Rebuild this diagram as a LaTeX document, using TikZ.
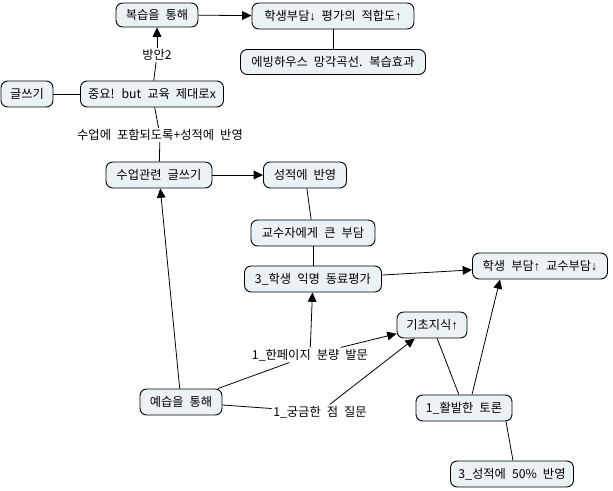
\documentclass[tikz,border=0pt]{standalone}
\usepackage{fontspec}
\setmainfont{Noto Sans CJK KR}[WordSpace=2.2]
\newfontfamily\arrfont{Liberation Sans}
\newcommand{\upar}{{\arrfont ↑}}
\newcommand{\dnar}{{\arrfont ↓}}
\usetikzlibrary{arrows.meta}
\definecolor{boxfill}{RGB}{234,242,245}
\tikzset{
  box/.style={draw=black, line width=0.7pt, rounded corners=5pt, fill=boxfill,
    inner sep=1pt, minimum height=19.5pt, font=\fontsize{9.2pt}{10pt}\selectfont},
  lab/.style={fill=white, inner sep=1pt, font=\fontsize{9.2pt}{10pt}\selectfont},
  conn/.style={line width=0.6pt, black},
  arr/.style={conn, -{Triangle[length=7pt,width=6.5pt]}}
}
\begin{document}
\begin{tikzpicture}[x=0.75pt,y=-0.75pt]
\useasboundingbox (0,0) rectangle (613,491);
% nodes
\node[box, minimum width=61.5pt, minimum height=18pt] (bok) at (157,15) {복습을 통해};
\node[box, minimum width=121.5pt] (hakbu) at (333,16) {학생부담\dnar\ 평가의 적합도\upar};
\node[box, minimum width=138.75pt, minimum height=18.75pt] (ebb) at (333,62) {에빙하우스 망각곡선. 복습효과};
\node[box, minimum width=39pt] (geul) at (27,94) {글쓰기};
\node[box, minimum width=107.25pt] (joong) at (152,94) {중요! but 교육 제대로x};
\node[box, minimum width=79.5pt] (sueop) at (159,175) {수업관련 글쓰기};
\node[box, minimum width=62.25pt] (seong) at (305,175) {성적에 반영};
\node[box, minimum width=93pt] (gyosu) at (313,233) {교수자에게 큰 부담};
\node[box, minimum width=102.75pt] (ikm) at (313,279) {3\_학생 익명 동료평가};
\node[box, minimum width=101.25pt] (hbu) at (540,266) {학생 부담\upar\ 교수부담\dnar};
\node[box, minimum width=52.5pt] (gicho) at (432,325) {기초지식\upar};
\node[box, minimum width=61.5pt] (yes) at (181,402) {예습을 통해};
\node[box, minimum width=72pt] (toron) at (464,408) {1\_활발한 토론};
\node[box, minimum width=92.25pt] (s50) at (512,474) {3\_성적에 50\% 반영};
% labels
\node[lab] (l1) at (157,55) {방안2};
\node[lab] (l2) at (160,135) {수업에 포함되도록+성적에 반영};
\node[lab] (l3) at (310,355) {1\_한페이지 분량 발문};
\node[lab] (l4) at (320,412) {1\_궁금한 점 질문};
% connectors
\draw[arr] (bok) -- (hakbu);
\draw[conn] (hakbu) -- (ebb);
\draw[conn] (geul) -- (joong);
\draw[conn] (joong) -- (l1);
\draw[arr] (l1) -- (bok);
\draw[conn] (joong) -- (l2);
\draw[conn] (l2) -- (sueop);
\draw[arr] (sueop) -- (seong);
\draw[conn] (seong) -- (gyosu);
\draw[conn] (gyosu) -- (ikm);
\draw[arr] (ikm) -- (hbu);
\draw[arr] (yes) -- (sueop);
\draw[conn] (yes) -- (l3);
\draw[arr] (l3) -- (ikm);
\draw[arr] (l3) -- (gicho);
\draw[conn] (yes) -- (l4);
\draw[arr] (l4) -- (gicho);
\draw[conn] (gicho) -- (toron);
\draw[arr] (toron.north -| 472,0) -- (hbu.south -| 500,0);
\draw[conn] (toron.south -| 506,0) -- (s50.north -| 513,0);
\end{tikzpicture}
\end{document}
